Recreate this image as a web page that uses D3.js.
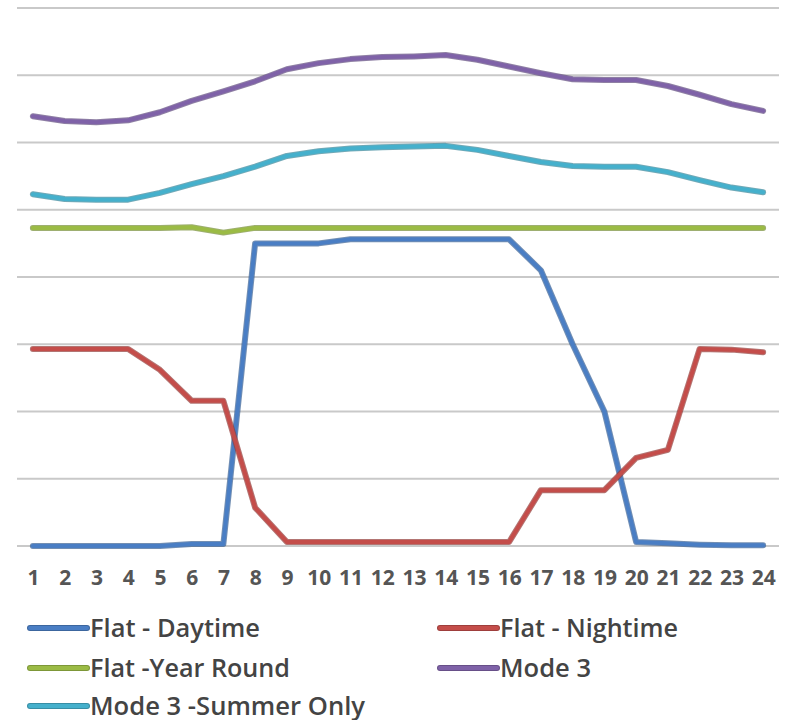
<!DOCTYPE html>
<html>
<head>
<meta charset="utf-8">
<title>hourly profiles</title>
<script src="https://d3js.org/d3.v7.min.js"></script>
<style>
  body { margin: 0; background: #fff; overflow: hidden; }
  svg text { font-family: "Open Sans", "Liberation Sans", sans-serif; }
</style>
</head>
<body>
<svg></svg>
<script>
// hours on the x axis
const hours = [1,2,3,4,5,6,7,8,9,10,11,12,13,14,15,16,17,18,19,20,21,22,23,24];

// series values, in grid units (one unit = one gridline step)
const flatDaytime = [0,0,0,0,0,0.03,0.03,4.5,4.5,4.5,4.56,4.56,4.56,4.56,4.56,4.56,4.1,3.0,2.0,0.06,0.04,0.02,0.01,0.01];
const flatNighttime = [2.93,2.93,2.93,2.93,2.62,2.16,2.16,0.57,0.06,0.06,0.06,0.06,0.06,0.06,0.06,0.06,0.83,0.83,0.83,1.31,1.43,2.93,2.92,2.88];
const flatYearRound = [4.73,4.73,4.73,4.73,4.73,4.74,4.66,4.73,4.73,4.73,4.73,4.73,4.73,4.73,4.73,4.73,4.73,4.73,4.73,4.73,4.73,4.73,4.73,4.73];
const mode3 = [6.39,6.32,6.30,6.33,6.45,6.62,6.76,6.91,7.09,7.18,7.24,7.27,7.28,7.30,7.23,7.13,7.03,6.94,6.93,6.93,6.84,6.71,6.57,6.47];
const mode3Summer = [5.23,5.16,5.15,5.15,5.25,5.38,5.50,5.64,5.80,5.87,5.91,5.93,5.94,5.95,5.89,5.80,5.71,5.65,5.64,5.64,5.56,5.44,5.33,5.26];

const seriesNames = ["Flat - Daytime", "Flat - Nightime", "Flat -Year Round", "Mode 3", "Mode 3 -Summer Only"];
const seriesColors = ["#4a7ec4", "#c44d4a", "#9bbb45", "#7f62a8", "#45b0cc"];
const gridValues = [0,1,2,3,4,5,6,7,8];

const series = [flatDaytime, flatNighttime, flatYearRound, mode3, mode3Summer]
  .map((vals, i) => ({ name: seriesNames[i], color: seriesColors[i], values: vals }));

const width = 788, height = 720;
const svg = d3.select("svg").attr("width", width).attr("height", height);

const x = d3.scalePoint().domain(hours).range([17, 779]).padding(0.5);
const y = d3.scaleLinear().domain([0, 8]).range([546, 8]);

// gridlines
svg.append("g")
  .selectAll("line")
  .data(gridValues)
  .enter().append("line")
  .attr("x1", 17).attr("x2", 779)
  .attr("y1", d => y(d)).attr("y2", d => y(d))
  .attr("stroke", "#c9c9c9")
  .attr("stroke-width", 2);

// x axis labels
const xAxis = svg.append("g")
  .attr("transform", `translate(0,${y(0)})`)
  .call(d3.axisBottom(x).tickSize(0).tickPadding(24));
xAxis.select(".domain").remove();
xAxis.selectAll("text")
  .attr("font-family", "'Open Sans', sans-serif")
  .attr("font-size", 21)
  .attr("font-weight", "bold")
  .attr("fill", "#555555");

const line = d3.line()
  .x((d, i) => x(hours[i]))
  .y(d => y(d));

const lines = svg.append("g");
series.forEach(s => {
  lines.append("path")
    .attr("d", line(s.values))
    .attr("fill", "none")
    .attr("stroke", d3.color(s.color).darker(0.8))
    .attr("stroke-opacity", 0.7)
    .attr("stroke-width", 6)
    .attr("stroke-linejoin", "round")
    .attr("stroke-linecap", "round");
  lines.append("path")
    .attr("d", line(s.values))
    .attr("fill", "none")
    .attr("stroke", s.color)
    .attr("stroke-width", 4)
    .attr("stroke-linejoin", "round")
    .attr("stroke-linecap", "round");
});

// legend
const legendPos = [
  { x: 30, y: 628, w: 170 },
  { x: 440, y: 628, w: 178 },
  { x: 30, y: 668, w: 200 },
  { x: 440, y: 668, w: 91 },
  { x: 30, y: 706, w: 275 }
];
const legend = svg.append("g");
series.forEach((s, i) => {
  const p = legendPos[i];
  legend.append("line")
    .attr("x1", p.x).attr("x2", p.x + 57)
    .attr("y1", p.y).attr("y2", p.y)
    .attr("stroke", d3.color(s.color).darker(0.6))
    .attr("stroke-width", 6)
    .attr("stroke-linecap", "round");
  legend.append("line")
    .attr("x1", p.x).attr("x2", p.x + 57)
    .attr("y1", p.y).attr("y2", p.y)
    .attr("stroke", s.color)
    .attr("stroke-width", 4)
    .attr("stroke-linecap", "round");
  legend.append("text")
    .attr("x", p.x + 60)
    .attr("y", p.y + 9)
    .attr("font-family", "'Noto Sans', 'Open Sans', sans-serif")
    .attr("font-size", 26)
    .attr("font-weight", 600)
    .attr("fill", "#444444")
    .attr("textLength", p.w)
    .attr("lengthAdjust", "spacingAndGlyphs")
    .text(s.name);
});
</script>
</body>
</html>
